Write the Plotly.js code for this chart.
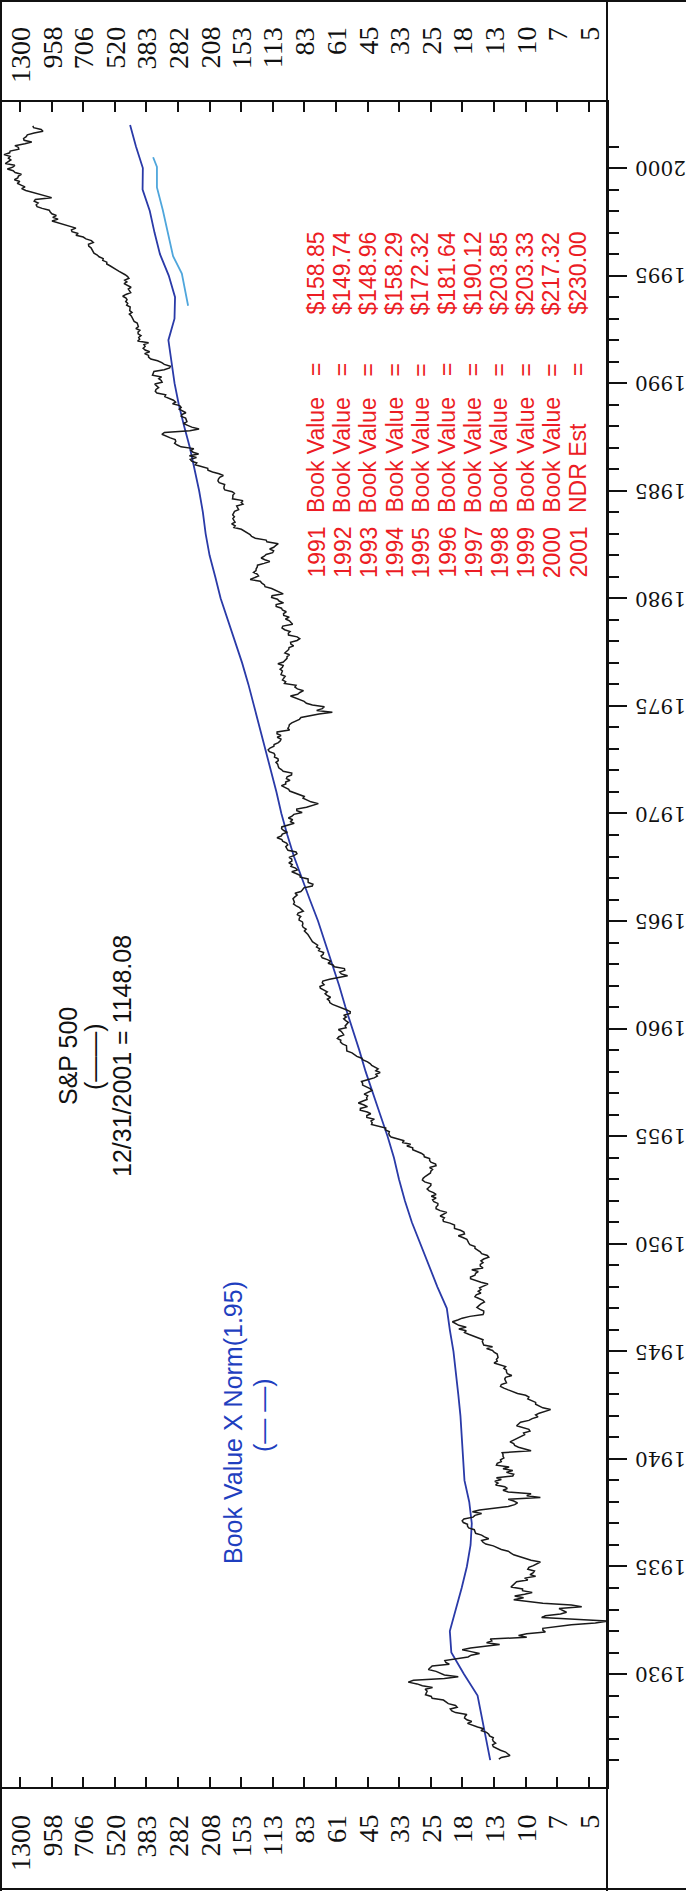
<!DOCTYPE html>
<html>
<head>
<meta charset="utf-8">
<script src="https://cdn.plot.ly/plotly-3.0.1.min.js"></script>
<style>
  html, body { margin: 0; padding: 0; background: #ffffff; }
  #chart { width: 686px; height: 1891px; }
</style>
</head>
<body>
<div id="chart"></div>
<script>
// S&P 500 monthly closes, January 1926 through December 2001
const spxStartYear = 1926;
const spxMonthly = [
  12.7, 12.4, 11.4, 11.6, 11.9, 12.5, 12.9, 13.4, 13.5, 13.1, 13.4, 13.5,
  13.4, 13.9, 14.0, 14.3, 15.1, 14.7, 15.6, 16.3, 17.2, 16.5, 17.3, 17.7,
  17.6, 17.3, 19.3, 20.0, 20.3, 19.0, 19.3, 20.7, 21.3, 21.7, 24.2, 24.4,
  25.8, 25.6, 25.4, 25.9, 24.1, 26.6, 28.0, 30.5, 29.0, 21.5, 18.8, 21.5,
  22.6, 23.3, 25.1, 24.6, 24.2, 20.5, 21.2, 21.4, 18.8, 17.1, 16.6, 15.3,
  16.6, 18.1, 16.7, 14.8, 12.6, 14.3, 13.6, 13.8, 9.7, 10.5, 9.7, 8.1,
  8.3, 8.3, 7.3, 6.3, 5.0, 4.4, 6.1, 8.4, 8.1, 7.0, 6.6, 6.9,
  7.1, 5.7, 6.3, 8.3, 9.6, 11.0, 10.0, 10.9, 9.9, 9.2, 10.1, 10.1,
  11.3, 11.1, 11.0, 10.7, 9.6, 9.9, 8.9, 9.4, 9.1, 9.0, 9.6, 9.5,
  9.1, 8.8, 8.5, 9.3, 9.8, 10.3, 11.0, 11.3, 11.6, 12.4, 13.0, 13.4,
  14.4, 14.8, 15.0, 14.0, 14.6, 15.0, 15.9, 16.0, 16.1, 17.0, 17.2, 17.2,
  17.9, 18.1, 17.8, 16.3, 16.0, 15.0, 16.4, 15.3, 13.0, 11.6, 10.9, 10.6,
  11.0, 11.6, 8.5, 9.7, 9.3, 11.6, 12.2, 11.7, 12.0, 13.1, 12.8, 13.2,
  12.4, 13.0, 11.1, 11.0, 11.8, 11.1, 12.2, 11.5, 13.0, 12.9, 12.4, 12.5,
  12.1, 12.2, 12.2, 12.3, 9.3, 10.0, 10.5, 10.9, 11.0, 11.4, 11.0, 10.6,
  10.1, 9.9, 10.0, 9.4, 9.5, 10.2, 10.7, 10.5, 10.3, 9.5, 9.2, 8.7,
  8.9, 8.6, 8.1, 7.7, 8.3, 8.6, 8.9, 8.9, 9.3, 9.6, 9.5, 9.8,
  10.6, 11.2, 11.6, 12.1, 12.5, 12.4, 11.8, 11.9, 12.0, 11.9, 11.2, 11.7,
  11.8, 11.8, 12.1, 11.9, 12.6, 13.3, 12.9, 13.0, 12.8, 12.9, 12.9, 13.3,
  13.5, 14.3, 13.5, 14.7, 14.8, 14.9, 14.8, 15.6, 16.4, 17.0, 17.7, 17.4,
  18.7, 17.4, 18.7, 19.3, 19.9, 18.9, 18.1, 16.8, 14.8, 14.7, 14.7, 15.3,
  15.7, 15.4, 15.1, 14.6, 14.8, 15.4, 16.0, 15.8, 15.1, 15.5, 15.1, 15.3,
  14.7, 14.1, 15.1, 16.0, 16.7, 16.7, 16.0, 15.9, 15.5, 16.5, 14.8, 15.2,
  15.2, 14.8, 15.1, 14.7, 14.0, 14.2, 15.0, 15.2, 15.6, 16.0, 16.0, 16.8,
  17.0, 17.2, 17.3, 18.0, 18.8, 17.7, 17.8, 18.4, 19.5, 19.5, 19.5, 20.4,
  21.7, 21.8, 21.5, 22.4, 21.5, 21.0, 22.4, 23.3, 23.3, 22.9, 22.9, 23.8,
  24.1, 23.3, 24.4, 23.3, 23.9, 24.9, 25.4, 25.0, 24.5, 24.5, 26.0, 26.6,
  26.4, 25.9, 25.3, 24.6, 24.5, 24.1, 24.8, 23.3, 23.4, 24.5, 24.8, 24.8,
  26.1, 26.2, 26.9, 28.3, 29.2, 29.2, 30.9, 29.8, 32.3, 31.7, 34.2, 36.0,
  36.6, 36.8, 36.6, 38.0, 37.9, 41.0, 43.5, 43.2, 43.7, 42.3, 45.5, 45.5,
  43.8, 45.3, 48.5, 48.4, 45.2, 47.0, 49.4, 47.5, 45.4, 45.6, 45.1, 46.7,
  44.7, 43.3, 44.1, 45.7, 47.4, 47.4, 47.9, 45.2, 42.4, 41.1, 41.7, 40.0,
  41.7, 40.8, 42.1, 43.4, 44.1, 45.2, 47.2, 47.8, 50.1, 51.3, 52.5, 55.2,
  55.4, 55.4, 55.4, 57.6, 58.7, 58.5, 60.5, 59.6, 56.9, 57.5, 58.3, 59.9,
  55.6, 56.1, 55.3, 54.4, 55.8, 56.9, 55.5, 56.9, 53.5, 53.4, 55.5, 58.1,
  61.8, 63.4, 65.1, 65.3, 66.6, 64.6, 66.8, 68.1, 66.7, 68.6, 71.3, 71.6,
  68.8, 70.0, 69.6, 65.2, 59.6, 54.8, 58.2, 59.1, 56.3, 56.5, 62.3, 63.1,
  66.2, 64.3, 66.6, 70.0, 70.8, 69.4, 69.1, 72.5, 71.7, 74.0, 73.2, 75.0,
  77.0, 77.8, 79.0, 79.5, 80.4, 81.7, 83.2, 81.8, 84.2, 84.9, 84.4, 84.8,
  87.6, 87.4, 86.2, 89.1, 88.4, 84.1, 85.3, 87.2, 90.0, 92.4, 91.6, 92.4,
  92.9, 91.2, 89.2, 91.1, 86.1, 84.7, 83.6, 77.1, 76.6, 80.2, 80.5, 80.3,
  86.6, 86.8, 90.2, 94.0, 89.1, 90.6, 94.8, 93.6, 96.7, 93.9, 94.0, 96.5,
  92.2, 89.4, 90.2, 97.5, 98.7, 99.6, 97.7, 98.9, 102.7, 103.4, 108.4, 103.9,
  103.0, 98.1, 101.5, 103.7, 103.5, 97.7, 91.8, 95.5, 93.1, 97.1, 93.8, 92.1,
  85.0, 89.5, 89.6, 81.5, 76.6, 72.7, 78.1, 81.5, 84.3, 83.3, 87.2, 92.2,
  95.9, 96.8, 100.3, 103.9, 99.6, 99.7, 95.6, 99.0, 98.3, 94.2, 94.0, 102.1,
  103.9, 106.6, 107.2, 107.7, 109.5, 107.1, 107.4, 111.1, 110.6, 111.6, 116.7, 118.1,
  116.0, 111.7, 111.5, 107.0, 105.0, 104.3, 108.2, 104.3, 108.4, 108.3, 96.0, 97.6,
  96.6, 96.2, 94.0, 90.3, 87.3, 86.0, 79.3, 72.2, 63.5, 73.9, 70.0, 68.6,
  77.0, 81.6, 83.4, 87.3, 91.2, 95.2, 88.8, 86.9, 83.9, 89.0, 91.2, 90.2,
  100.9, 99.7, 102.8, 101.6, 100.2, 104.3, 103.4, 102.9, 105.2, 102.9, 102.1, 107.5,
  102.0, 99.8, 98.4, 98.4, 96.1, 100.5, 98.9, 96.8, 96.5, 92.3, 94.8, 95.1,
  89.3, 87.0, 89.2, 97.0, 97.2, 95.5, 100.7, 103.3, 102.5, 93.2, 94.7, 96.1,
  99.9, 96.3, 101.6, 101.8, 99.1, 102.9, 103.8, 109.3, 109.3, 101.8, 106.2, 107.9,
  114.2, 113.7, 102.1, 106.3, 111.2, 114.2, 121.7, 122.4, 125.5, 127.5, 140.5, 135.8,
  129.6, 131.3, 136.0, 132.8, 132.6, 131.2, 130.9, 122.8, 116.2, 121.9, 126.4, 122.6,
  120.4, 113.1, 112.0, 116.4, 111.9, 109.6, 107.1, 119.5, 120.4, 133.7, 138.5, 140.6,
  145.3, 148.1, 153.0, 164.4, 162.4, 168.1, 162.6, 164.4, 166.1, 163.6, 166.4, 164.9,
  163.4, 157.1, 159.2, 160.1, 150.6, 153.2, 150.7, 166.7, 166.1, 166.1, 163.6, 167.2,
  179.6, 181.2, 180.7, 179.8, 189.6, 191.9, 190.9, 188.6, 182.1, 189.8, 202.2, 211.3,
  211.8, 226.9, 238.9, 235.5, 247.4, 250.8, 236.1, 252.9, 231.3, 244.0, 249.2, 242.2,
  274.1, 284.2, 291.7, 288.4, 290.1, 304.0, 318.7, 329.8, 321.8, 251.8, 230.3, 247.1,
  257.1, 267.8, 258.9, 261.3, 262.2, 273.5, 272.0, 261.5, 271.9, 279.0, 273.7, 277.7,
  297.5, 288.9, 294.9, 309.6, 320.5, 318.0, 346.1, 351.5, 349.2, 340.4, 346.0, 353.4,
  329.1, 331.9, 339.9, 330.8, 361.2, 358.0, 356.2, 322.6, 306.1, 304.0, 322.2, 330.2,
  343.9, 367.1, 375.2, 375.3, 389.8, 371.2, 387.8, 395.4, 387.9, 392.5, 375.2, 417.1,
  408.8, 412.7, 403.7, 415.0, 415.4, 408.1, 424.2, 414.0, 417.8, 418.7, 431.4, 435.7,
  438.8, 443.4, 451.7, 440.2, 450.2, 450.5, 448.1, 463.6, 458.9, 467.8, 461.8, 466.5,
  481.6, 467.1, 445.8, 450.9, 456.5, 444.3, 458.3, 475.5, 462.7, 472.4, 453.7, 459.3,
  470.4, 487.4, 500.7, 514.7, 533.4, 544.8, 562.1, 561.9, 584.4, 581.5, 605.4, 615.9,
  636.0, 640.4, 645.5, 654.2, 669.1, 670.6, 640.0, 652.0, 687.3, 705.3, 757.0, 740.7,
  786.2, 790.8, 757.1, 801.3, 848.3, 885.1, 954.3, 899.5, 947.3, 914.6, 955.4, 970.4,
  980.3, 1049.3, 1101.8, 1111.8, 1090.8, 1133.8, 1120.7, 957.3, 1017.0, 1098.7, 1163.6, 1229.2,
  1279.6, 1238.3, 1286.4, 1335.2, 1301.8, 1372.7, 1328.7, 1320.4, 1282.7, 1362.9, 1388.9, 1469.3,
  1394.5, 1366.4, 1498.6, 1452.4, 1420.6, 1454.6, 1430.8, 1517.7, 1436.5, 1429.4, 1315.2, 1320.3,
  1366.0, 1239.9, 1160.3, 1249.5, 1255.8, 1224.4, 1211.2, 1133.6, 1040.9, 1059.8, 1139.5, 1148.1
];

// Book value per share (year-end positions) before the tabulated years
const bookYears = [1926, 1927, 1928, 1929, 1930, 1931, 1932, 1933, 1934, 1935, 1936, 1937,
  1938, 1939, 1940, 1941, 1942, 1943, 1944, 1945, 1946, 1947, 1948, 1949, 1950, 1951,
  1952, 1953, 1954, 1955, 1956, 1957, 1958, 1959, 1960, 1961, 1962, 1963, 1964, 1965,
  1966, 1967, 1968, 1969, 1970, 1971, 1972, 1973, 1974, 1975, 1976, 1977, 1978, 1979,
  1980, 1981, 1982, 1983, 1984, 1985, 1986, 1987, 1988, 1989, 1990, 1991];
const bookValues = [7.08, 7.38, 7.64, 8.0, 9.13, 10.31, 10.46, 9.85, 9.33, 8.87, 8.56, 8.46,
  8.67, 9.08, 9.18, 9.28, 9.44, 9.64, 9.85, 10.1, 10.46, 10.77, 11.8, 12.8, 13.85, 15.1,
  16.15, 17.1, 17.95, 19.1, 20.5, 22.05, 23.6, 25.1, 26.9, 28.7, 30.5, 32.6, 34.9, 37.4,
  40.5, 43.6, 47.2, 50.3, 53.3, 55.9, 59.0, 62.1, 65.6, 69.2, 73.3, 77.9, 83.6, 89.7,
  95.9, 101, 106.7, 110.8, 113.8, 118, 123, 129, 136.4, 143.6, 149.7, 153.8];

// Tabulated book values (drawn at each year's end)
const tableYears = [1991, 1992, 1993, 1994, 1995, 1996, 1997, 1998, 1999, 2000, 2001];
const tableLabels = ['Book Value', 'Book Value', 'Book Value', 'Book Value', 'Book Value',
  'Book Value', 'Book Value', 'Book Value', 'Book Value', 'Book Value', 'NDR Est'];
const tableValues = [158.85, 149.74, 148.96, 158.29, 172.32, 181.64, 190.12, 203.85, 203.33, 217.32, 230.00];
const normFactor = 1.95;

// Light blue segment
const lightYears = [1993.6, 1995.1, 1995.9, 1998.05, 1999.1, 2000.05, 2000.5];
const lightValues = [256, 272, 296, 327, 346, 346, 359];

// Axis ticks
const valueTicks = [1300, 957.9, 705.8, 520.0, 383.2, 282.3, 208.0, 153.3, 112.9, 83.2,
  61.3, 45.2, 33.3, 24.53, 18.07, 13.32, 9.81, 7.23, 5.33];
const valueTickText = ['1300', '958', '706', '520', '383', '282', '208', '153', '113', '83',
  '61', '45', '33', '25', '18', '13', '10', '7', '5'];
const yearTicks = [1930, 1935, 1940, 1945, 1950, 1955, 1960, 1965, 1970, 1975, 1980, 1985, 1990, 1995, 2000];

// Page geometry (pixels)
const W = 686, H = 1891;
const M = { l: 2, r: 79, t: 102, b: 104 };
const plotW = W - M.l - M.r, plotH = H - M.t - M.b;
const px2x = px => (px - M.l) / plotW;
const py2y = py => (H - M.b - py) / plotH;

const spxYears = spxMonthly.map((_, i) => spxStartYear + (i + 0.5) / 12);
const blueYears = bookYears.concat(tableYears.map(y => y + 1));
const blueValues = bookValues.concat(tableValues).map(v => v * normFactor);

const minorYears = [];
for (let y = 1926; y <= 2001; y++) if (y % 5 !== 0) minorYears.push(y);

const traces = [
  { x: blueValues, y: blueYears, mode: 'lines', line: { color: '#2a3aa8', width: 1.8 }, hoverinfo: 'skip' },
  { x: lightValues, y: lightYears, mode: 'lines', line: { color: '#4fa6dc', width: 1.8 }, hoverinfo: 'skip' },
  { x: spxMonthly, y: spxYears, mode: 'lines', line: { color: '#1a1a1a', width: 1.5 }, hoverinfo: 'skip' }
];

const red = '#ec1c24', blue = '#1f3fbf';
const sans = 'Liberation Sans, Arial, sans-serif';
const annotations = [];

// value labels above and below the plot
valueTicks.forEach((v, i) => {
  [25, 1813].forEach(py => {
    annotations.push({
      xref: 'x', yref: 'paper', x: Math.log10(v), y: py2y(py),
      xanchor: 'center', yanchor: 'top', textangle: -90, showarrow: false,
      text: valueTickText[i],
      font: { family: 'Liberation Serif, Times New Roman, serif', size: 28, color: '#111' }
    });
  });
});

// year labels, turned upside down, beside the right axis
yearTicks.forEach(yr => {
  annotations.push({
    xref: 'paper', yref: 'y', x: px2x(633), y: yr,
    xanchor: 'left', yanchor: 'middle', textangle: 180, showarrow: false,
    text: String(yr),
    font: { family: 'DejaVu Serif, serif', size: 20, color: '#111' }
  });
});

// series captions
[['S&P 500', 68], ['(——)', 94], ['12/31/2001 = 1148.08', 122]].forEach(([t, px]) => {
  annotations.push({
    xref: 'paper', yref: 'paper', x: px2x(px), y: py2y(1056),
    xanchor: 'center', yanchor: 'middle', textangle: -90, showarrow: false,
    text: t, font: { family: sans, size: 25, color: '#111' }
  });
});
[['Book Value X Norm(1.95)', 233, 1423], ['(— —)', 263, 1415]].forEach(([t, px, py]) => {
  annotations.push({
    xref: 'paper', yref: 'paper', x: px2x(px), y: py2y(py),
    xanchor: 'center', yanchor: 'middle', textangle: -90, showarrow: false,
    text: t, font: { family: sans, size: 25, color: blue }
  });
});

// book value table
tableYears.forEach((yr, i) => {
  const px = 316 + 26.2 * i;
  const cells = [
    [String(yr), 580, 'bottom'],
    [tableLabels[i], 515, 'bottom'],
    ['=', 370, 'middle'],
    ['$' + tableValues[i].toFixed(2), 317, 'bottom']
  ];
  cells.forEach(([t, py, ya]) => {
    annotations.push({
      xref: 'paper', yref: 'paper', x: px2x(px), y: py2y(py),
      xanchor: 'center', yanchor: ya, textangle: -90, showarrow: false,
      text: t, font: { family: sans, size: 23, color: red }
    });
  });
});

// frame lines
const frame = (x0, y0, x1, y1) => ({
  type: 'line', xref: 'paper', yref: 'paper',
  x0: px2x(x0), y0: py2y(y0), x1: px2x(x1), y1: py2y(y1),
  line: { color: '#111', width: 2 }
});
const shapes = [
  frame(0, 1, W, 1),
  frame(0, H - 2, W, H - 2),
  frame(1, 0, 1, H),
  frame(607, 0, 607, H)
];

const layout = {
  width: W, height: H,
  margin: M,
  paper_bgcolor: '#ffffff', plot_bgcolor: '#ffffff',
  showlegend: false,
  xaxis: {
    type: 'log', range: [3.1895, 0.6498],
    tickmode: 'array', tickvals: valueTicks, showticklabels: false,
    ticks: 'inside', ticklen: 10, tickwidth: 2, tickcolor: '#111',
    showline: true, linewidth: 2, linecolor: '#111', mirror: 'ticks',
    showgrid: false, zeroline: false
  },
  yaxis: {
    range: [1924.75, 2003.07], side: 'right',
    tickmode: 'array', tickvals: yearTicks, showticklabels: false,
    ticks: 'outside', ticklen: 18, tickwidth: 2, tickcolor: '#111',
    showline: true, linewidth: 2, linecolor: '#111',
    showgrid: false, zeroline: false,
    minor: { tickmode: 'array', tickvals: minorYears, ticks: 'outside', ticklen: 10, tickwidth: 2, tickcolor: '#111', showgrid: false }
  },
  annotations: annotations,
  shapes: shapes
};

Plotly.newPlot('chart', traces, layout, { staticPlot: true, displayModeBar: false });
</script>
</body>
</html>
